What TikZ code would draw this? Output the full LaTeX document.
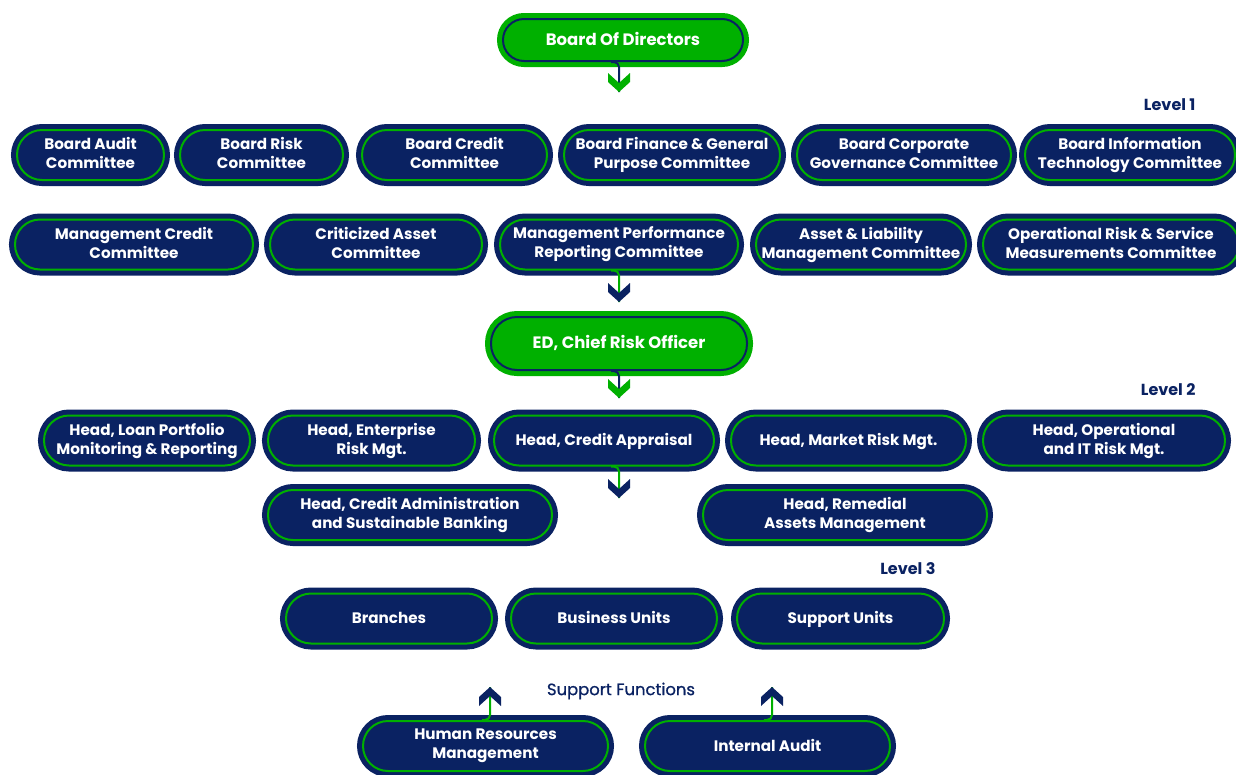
\documentclass[tikz,border=0pt]{standalone}
\usepackage{fontspec}
\setmainfont{Poppins}
\usetikzlibrary{calc,positioning}

\definecolor{navy}{RGB}{10,34,98}
\definecolor{leaf}{RGB}{0,176,0}

\tikzset{
  pill/.style={rounded corners=25pt,line width=2pt,text=white,align=center,
    minimum height=50pt,inner sep=0pt,font=\fontsize{15.2}{19}\selectfont\bfseries,
    execute at begin node=\rule[-4pt]{0pt}{18.8pt},execute at end node=\rule[-4pt]{0pt}{18.8pt}},
  unit/.style={pill,fill=navy,draw=leaf,preaction={draw=navy,line width=12pt}},
  head/.style={pill,fill=leaf,draw=navy,preaction={draw=leaf,line width=12pt},
    font=\fontsize{16.5}{20}\selectfont\bfseries},
  tag/.style={text=navy,font=\fontsize{16}{19}\selectfont\bfseries},
  wire/.style={line width=2pt,rounded corners=5pt},
  chevdown/.pic={\fill (-11,-19) -- (0,-9) -- (11,-19) -- (11,-10) -- (0,0) -- (-11,-10) -- cycle;},
  chevup/.pic={\fill (-11,19) -- (0,9) -- (11,19) -- (11,10) -- (0,0) -- (-11,10) -- cycle;}
}

\begin{document}
\begin{tikzpicture}[x=1pt,y=-1pt]
  \clip (0,0) rectangle (1236,774);

  % board
  \node[head,minimum width=240pt,minimum height=42pt,rounded corners=21pt] (bod) at (623,40) {Board Of Directors};

  % level 1 committees
  \node[tag,anchor=east] (lvl1) at (1199,105) {Level 1};
  \node[unit,minimum width=147pt] (bac) at (90.5,155) {Board Audit\\Committee};
  \node[unit,minimum width=163pt] (brc) at (261.5,155) {Board Risk\\Committee};
  \node[unit,minimum width=185pt] (bcc) at (454.5,155) {Board Credit\\Committee};
  \node[unit,minimum width=216pt] (bfc) at (672,155) {Board Finance \& General\\Purpose Committee};
  \node[unit,minimum width=214pt] (bgc) at (904,155) {Board Corporate\\Governance Committee};
  \node[unit,minimum width=210pt] (bic) at (1130,155) {Board Information\\Technology Committee};

  \node[unit,minimum width=238pt] (mcc) at (134,244.5) {Management Credit\\Committee};
  \node[unit,minimum width=212pt] (cac) at (376,244.5) {Criticized Asset\\Committee};
  \node[unit,minimum width=238pt] (mpr) at (619,244.5) {Management Performance\\Reporting Committee};
  \node[unit,minimum width=210pt] (alm) at (861,244.5) {Asset \& Liability\\Management Committee};
  \node[unit,minimum width=256pt] (ors) at (1111,244.5) {Operational Risk \& Service\\Measurements Committee};

  % chief risk officer
  \node[head,minimum width=256pt,minimum height=53pt,rounded corners=26pt] (cro) at (619,343.5) {ED, Chief Risk Officer};

  % level 2 heads
  \node[tag,anchor=east] (lvl2) at (1199,390) {Level 2};
  \node[unit,minimum width=206pt] (hlp) at (147,440.5) {Head, Loan Portfolio\\Monitoring \& Reporting};
  \node[unit,minimum width=207pt] (her) at (371.5,440.5) {Head, Enterprise\\Risk Mgt.};
  \node[unit,minimum width=220pt] (hca) at (604,440.5) {Head, Credit Appraisal};
  \node[unit,minimum width=235pt] (hmr) at (848.5,440.5) {Head, Market Risk Mgt.};
  \node[unit,minimum width=242pt] (hor) at (1104,440.5) {Head, Operational\\and IT Risk Mgt.};

  \node[unit,minimum width=284pt] (hcs) at (410,515) {Head, Credit Administration\\and Sustainable Banking};
  \node[unit,minimum width=284pt] (hra) at (845,515) {Head, Remedial\\Assets Management};

  % level 3 units
  \node[tag,anchor=east] (lvl3) at (939,569) {Level 3};
  \node[unit,minimum width=206pt] (bra) at (389,618.5) {Branches};
  \node[unit,minimum width=206pt] (biz) at (614,618.5) {Business Units};
  \node[unit,minimum width=207pt] (sun) at (840.5,618.5) {Support Units};

  % support functions
  \node[tag,font=\fontsize{16.4}{19}\selectfont\addfontfeatures{FakeBold=0.8}] (sfn) at (621,691) {Support Functions};
  \node[unit,minimum width=245pt] (hrm) at (485.5,746) {Human Resources\\Management};
  \node[unit,minimum width=245pt] (iau) at (767.5,746) {Internal Audit};

  % arrows between the levels
  \coordinate (t1) at (619,92);
  \coordinate (t2) at (619,302);
  \coordinate (t3) at (619,398);
  \coordinate (t4) at (619,498);
  \coordinate (u1) at (490,687);
  \coordinate (u2) at (772,687);

  \draw[wire,navy] ($(bod.south -| t1)+(-8,0)$) -- (bod.south -| t1) -- (t1);
  \draw[wire,leaf] ($(mpr.south -| t2)+(-8,0)$) -- (mpr.south -| t2) -- (t2);
  \draw[wire,navy] ($(cro.south -| t3)+(-8,0)$) -- (cro.south -| t3) -- (t3);
  \draw[wire,leaf] ($(hca.south -| t4)+(-8,0)$) -- (hca.south -| t4) -- (t4);
  \draw[wire,leaf] ($(hrm.north -| u1)+(-8,0)$) -- (hrm.north -| u1) -- (u1);
  \draw[wire,leaf] ($(iau.north -| u2)+(-8,0)$) -- (iau.north -| u2) -- (u2);

  \pic[leaf] at (t1) {chevdown};
  \pic[navy] at (t2) {chevdown};
  \pic[leaf] at (t3) {chevdown};
  \pic[navy] at (t4) {chevdown};
  \pic[navy] at (u1) {chevup};
  \pic[navy] at (u2) {chevup};
\end{tikzpicture}
\end{document}
